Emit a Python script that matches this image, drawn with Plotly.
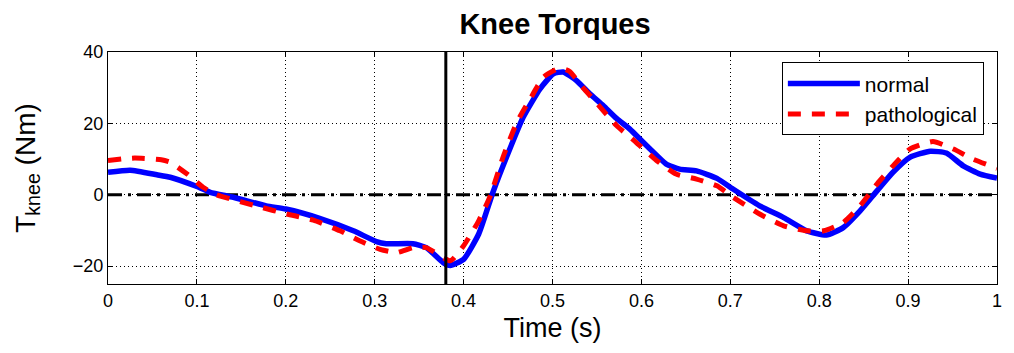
import plotly.graph_objects as go

# Data
normal_t = [0, 0.025, 0.055, 0.07, 0.1, 0.115, 0.141, 0.178, 0.2, 0.238, 0.276, 0.302, 0.313, 0.343,
            0.358, 0.377, 0.385, 0.4, 0.417, 0.433, 0.449, 0.467, 0.486, 0.501, 0.512, 0.527, 0.542,
            0.557, 0.572, 0.587, 0.602, 0.617, 0.628, 0.643, 0.662, 0.685, 0.703, 0.733, 0.76, 0.786,
            0.808, 0.827, 0.846, 0.865, 0.883, 0.902, 0.925, 0.943, 0.962, 0.981, 1.0]
normal_tau = [6.3, 6.9, 5.6, 4.9, 2.3, 0.7, -0.7, -3.1, -4.0, -6.6, -10.1, -13.1, -13.7, -13.7,
              -14.8, -19.0, -19.8, -18.1, -11.0, 0.7, 11.0, 21.7, 29.7, 33.9, 34.4, 32.0, 28.3,
              25.0, 21.4, 18.4, 14.7, 11.1, 8.6, 7.2, 6.7, 4.6, 1.6, -3.1, -6.4, -10.1,
              -11.3, -9.2, -4.5, 1.1, 6.3, 10.5, 12.2, 11.7, 8.1, 5.8, 4.7]

patho_t = [0, 0.03, 0.06, 0.07, 0.089, 0.107, 0.122, 0.171, 0.201, 0.231, 0.261, 0.283, 0.306, 0.325,
           0.343, 0.358, 0.385, 0.4, 0.417, 0.43, 0.445, 0.46, 0.475, 0.49, 0.508, 0.519, 0.534, 0.549,
           0.572, 0.594, 0.617, 0.639, 0.662, 0.685, 0.703, 0.733, 0.76, 0.786, 0.805, 0.827, 0.846,
           0.865, 0.883, 0.902, 0.928, 0.951, 0.973, 1.0]
patho_tau = [9.6, 10.3, 9.8, 9.1, 5.8, 2.1, 0.0, -3.4, -5.4, -7.1, -10.1, -12.9, -15.3, -16.2,
             -14.8, -14.8, -18.5, -14.3, -7.3, -0.3, 11.0, 20.3, 26.9, 33.0, 35.5, 34.6, 30.1, 25.9,
             19.4, 14.7, 9.6, 5.8, 4.4, 2.5, -0.7, -5.4, -8.7, -10.1, -10.1, -7.8, -3.1,
             3.0, 8.1, 12.8, 14.9, 12.8, 10.0, 7.4]

x_ticks = [0, 0.1, 0.2, 0.3, 0.4, 0.5, 0.6, 0.7, 0.8, 0.9, 1]
x_tick_labels = ["0", "0.1", "0.2", "0.3", "0.4", "0.5", "0.6", "0.7", "0.8", "0.9", "1"]
y_ticks = [-20, 0, 20, 40]
event_time = 0.38
zero_level = 0

fig = go.Figure()
fig.add_trace(go.Scatter(x=normal_t, y=normal_tau, mode="lines", name="normal",
                         line=dict(color="#0000ff", width=5.5, shape="spline", smoothing=0.5)))
fig.add_trace(go.Scatter(x=patho_t, y=patho_tau, mode="lines", name="pathological",
                         line=dict(color="#ff0000", width=5, dash="13px,11px", shape="spline", smoothing=0.5)))

fig.add_shape(type="line", xref="x", yref="y", x0=0, x1=1, y0=zero_level, y1=zero_level,
              line=dict(color="black", width=3, dash="14px,6px,3px,6px"), layer="below")
fig.add_shape(type="line", xref="x", yref="paper", x0=event_time, x1=event_time, y0=0, y1=1,
              line=dict(color="black", width=3))

font_family = "Arial, Liberation Sans, sans-serif"
axis_common = dict(showline=True, linecolor="black", linewidth=1, mirror="allticks",
                   ticks="inside", ticklen=5, tickcolor="black",
                   showgrid=True, gridcolor="black", griddash="1px,3px", gridwidth=1,
                   zeroline=False, automargin=False,
                   tickfont=dict(family=font_family, size=18, color="black"))

# The page body has an 8px default margin, so the figure is sized to fit beside it.
W, H = 1006, 345

fig.update_layout(
    width=W, height=H,
    margin=dict(l=100, r=17, t=44, b=69),
    paper_bgcolor="white", plot_bgcolor="white",
    title=dict(text="<b>Knee Torques</b>", xref="container", x=547 / W, xanchor="center",
               yref="container", y=1 - 16 / H, yanchor="middle",
               font=dict(family=font_family, size=29, color="black")),
    xaxis=dict(range=[0, 1], tickvals=x_ticks, ticktext=x_tick_labels,
               title=dict(text="Time (s)", font=dict(family=font_family, size=27, color="black"), standoff=8),
               **axis_common),
    yaxis=dict(range=[-25, 40], tickvals=y_ticks,
               title=dict(text="T<sub>knee</sub> (Nm)", font=dict(family=font_family, size=28, color="black"), standoff=29),
               **axis_common),
    legend=dict(x=0.758, y=0.955, xanchor="left", yanchor="top",
                bgcolor="white", bordercolor="black", borderwidth=1,
                font=dict(family=font_family, size=21, color="black"), itemwidth=72,
                tracegroupgap=0),
    showlegend=True,
)

fig.write_html("out.html")
